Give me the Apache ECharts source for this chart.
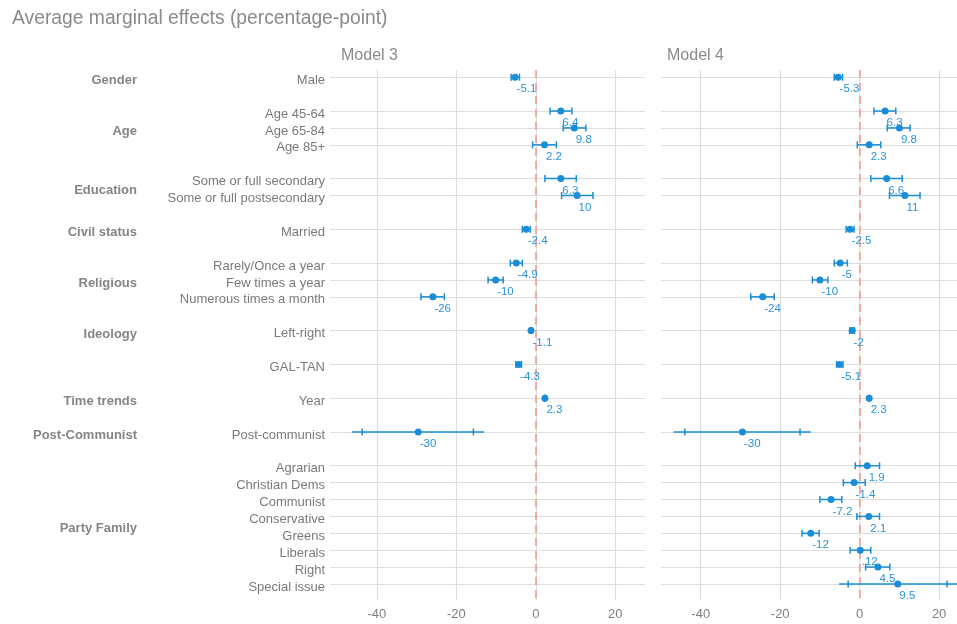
<!DOCTYPE html>
<html>
<head>
<meta charset="utf-8">
<script src="https://cdn.jsdelivr.net/npm/echarts@6/dist/echarts.min.js"></script>
<style>
  html, body { margin: 0; padding: 0; background: #fff; }
  #chart { width: 957px; height: 624px; }
</style>
</head>
<body>
<div id="chart"></div>
<script>
// rows (slot positions on the y scale, blank slots between groups)
var items = ['Male', 'Age 45-64', 'Age 65-84', 'Age 85+', 'Some or full secondary', 'Some or full postsecondary',
  'Married', 'Rarely/Once a year', 'Few times a year', 'Numerous times a month', 'Left-right', 'GAL-TAN',
  'Year', 'Post-communist', 'Agrarian', 'Christian Dems', 'Communist', 'Conservative', 'Greens', 'Liberals',
  'Right', 'Special issue'];
var itemRows = [0, 2, 3, 4, 6, 7, 9, 11, 12, 13, 15, 17, 19, 21, 23, 24, 25, 26, 27, 28, 29, 30];
var groups = ['Gender', 'Age', 'Education', 'Civil status', 'Religious', 'Ideology', 'Time trends', 'Post-Communist', 'Party Family'];
var groupRows = [0, 3, 6.5, 9, 12, 15, 19, 21, 26.5];
var xTicks = [-40, -20, 0, 20];

// Model 3 (no party family terms)
var est3 = [-5.2, 6.3, 9.7, 2.2, 6.3, 10.4, -2.4, -4.9, -10.1, -25.9, -1.2, -4.3, 2.3, -29.6];
var lo3 = [-6.2, 3.6, 6.9, -0.8, 2.3, 6.5, -3.4, -6.4, -12.0, -28.9, -1.4, -5.0, 2.2, -43.7];
var hi3 = [-4.1, 9.1, 12.6, 5.2, 10.2, 14.4, -1.4, -3.4, -8.2, -23.0, -1.0, -3.6, 2.4, -15.7];
var lineLo3 = [-6.2, 3.6, 6.9, -0.8, 2.3, 6.5, -3.4, -6.4, -12.0, -28.9, -1.4, -5.0, 2.2, -46.3];
var lineHi3 = [-4.1, 9.1, 12.6, 5.2, 10.2, 14.4, -1.4, -3.4, -8.2, -23.0, -1.0, -3.6, 2.4, -13.0];
var labels3 = ['-5.1', '6.4', '9.8', '2.2', '6.3', '10', '-2.4', '-4.9', '-10', '-26', '-1.1', '-4.3', '2.3', '-30'];

// Model 4
var est4 = [-5.4, 6.4, 10.0, 2.4, 6.8, 11.4, -2.4, -4.9, -10.0, -24.4, -1.9, -5.0, 2.4, -29.5,
  1.9, -1.4, -7.2, 2.3, -12.3, 0.15, 4.6, 9.6];
var lo4 = [-6.4, 3.6, 6.95, -0.6, 2.8, 7.5, -3.4, -6.4, -11.9, -27.4, -2.5, -5.8, 2.3, -44.0,
  -1.1, -4.1, -10.0, -0.7, -14.5, -2.4, 1.5, -2.9];
var hi4 = [-4.3, 9.1, 12.7, 5.3, 10.7, 15.2, -1.4, -3.1, -8.0, -21.5, -1.3, -4.2, 2.5, -15.0,
  5.0, 1.4, -4.5, 5.0, -10.2, 2.8, 7.6, 22.0];
var lineLo4 = [-6.4, 3.6, 6.95, -0.6, 2.8, 7.5, -3.4, -6.4, -11.9, -27.4, -2.5, -5.8, 2.3, -46.8,
  -1.1, -4.1, -10.0, -0.7, -14.5, -2.4, 1.5, -5.2];
var lineHi4 = [-4.3, 9.1, 12.7, 5.3, 10.7, 15.2, -1.4, -3.1, -8.0, -21.5, -1.3, -4.2, 2.5, -12.3,
  5.0, 1.4, -4.5, 5.0, -10.2, 2.8, 7.6, 25.0];
var labels4 = ['-5.3', '6.3', '9.8', '2.3', '6.6', '11', '-2.5', '-5', '-10', '-24', '-2', '-5.1', '2.3', '-30',
  '1.9', '-1.4', '-7.2', '2.1', '-12', '.12', '4.5', '9.5'];

var FONT = "'Liberation Sans', Arial, sans-serif";
var BLUE = '#1a8cd8';
var TEXT_BLUE = '#2b93d9';
var GREY = '#808080';
var GRID_LINE = '#dedede';

function buildData(est, lo, hi, lineLo, lineHi) {
  var out = [];
  for (var i = 0; i < est.length; i++) {
    out.push([est[i], itemRows[i], lo[i], hi[i], lineLo[i], lineHi[i], i]);
  }
  return out;
}

function makeRender(labels) {
  return function (params, api) {
    var row = api.value(1);
    var p = api.coord([api.value(0), row]);
    var l = api.coord([api.value(2), row]);
    var h = api.coord([api.value(3), row]);
    var a = api.coord([api.value(4), row]);
    var b = api.coord([api.value(5), row]);
    var st = { stroke: BLUE, lineWidth: 1.5 };
    return {
      type: 'group',
      children: [
        { type: 'line', shape: { x1: a[0], y1: a[1], x2: b[0], y2: b[1] }, style: st },
        { type: 'line', shape: { x1: l[0], y1: l[1] - 3.5, x2: l[0], y2: l[1] + 3.5 }, style: st },
        { type: 'line', shape: { x1: h[0], y1: h[1] - 3.5, x2: h[0], y2: h[1] + 3.5 }, style: st },
        { type: 'circle', shape: { cx: p[0], cy: p[1], r: 3.5 }, style: { fill: BLUE } },
        { type: 'text', x: p[0] + 1.5, y: p[1] + 12,
          style: { text: labels[api.value(6)], fill: TEXT_BLUE, font: '11.5px ' + FONT,
                   align: 'left', verticalAlign: 'middle' } }
      ]
    };
  };
}

function rowName(v) {
  var i = itemRows.indexOf(Math.round(v));
  return i >= 0 ? items[i] : '';
}
function groupName(v) {
  for (var i = 0; i < groupRows.length; i++) {
    if (Math.abs(groupRows[i] - v) < 0.01) return groups[i];
  }
  return '';
}

var yBase = {
  type: 'value', inverse: true, min: -0.43, max: 30.95,
  axisLine: { show: false },
  axisTick: { show: false, customValues: itemRows },
  splitLine: { show: true, lineStyle: { color: GRID_LINE, width: 1.2 } }
};

var xBase = {
  type: 'value',
  axisLine: { show: false },
  axisTick: { show: false, customValues: xTicks },
  axisLabel: { customValues: xTicks, color: GREY, fontSize: 13, fontFamily: FONT, margin: 8 },
  splitLine: { show: true, lineStyle: { color: GRID_LINE, width: 1.2 } }
};

var zeroLine = {
  silent: true, symbol: 'none',
  label: { show: false },
  lineStyle: { color: '#f39a90', type: [8, 5], width: 1.6 },
  data: [{ xAxis: 0 }]
};

var option = {
  backgroundColor: '#fff',
  animation: false,
  title: [
    { text: 'Average marginal effects (percentage-point)', left: 7, top: 4,
      textStyle: { color: '#8a8a8a', fontSize: 19.3, fontWeight: 'normal', fontFamily: FONT } },
    { text: 'Model 3', left: 336, top: 43,
      textStyle: { color: '#8a8a8a', fontSize: 16, fontWeight: 'normal', fontFamily: FONT } },
    { text: 'Model 4', left: 662, top: 43,
      textStyle: { color: '#8a8a8a', fontSize: 16, fontWeight: 'normal', fontFamily: FONT } }
  ],
  grid: [
    { left: 330, top: 70, width: 315, height: 530 },
    { left: 661, top: 70, width: 296, height: 530 }
  ],
  xAxis: [
    Object.assign({}, xBase, { gridIndex: 0, min: -51.8, max: 27.5 }),
    Object.assign({}, xBase, { gridIndex: 1, min: -50.0, max: 24.5 })
  ],
  yAxis: [
    Object.assign({}, yBase, { gridIndex: 0,
      axisLabel: { customValues: itemRows, formatter: rowName, color: '#7a7a7a', fontSize: 13,
                   fontFamily: FONT, margin: 5, verticalAlign: 'top', lineHeight: 6 } }),
    Object.assign({}, yBase, { gridIndex: 0, position: 'left', offset: 189,
      splitLine: { show: false },
      axisTick: { show: false, customValues: groupRows },
      axisLabel: { customValues: groupRows, formatter: groupName, color: '#858585', fontSize: 13,
                   fontWeight: 'bold', fontFamily: FONT, margin: 4, verticalAlign: 'top', lineHeight: 7 } }),
    Object.assign({}, yBase, { gridIndex: 1, axisLabel: { show: false } })
  ],
  series: [
    { type: 'custom', xAxisIndex: 0, yAxisIndex: 0, data: [], z: 1, markLine: zeroLine },
    { type: 'custom', xAxisIndex: 1, yAxisIndex: 2, data: [], z: 1, markLine: zeroLine },
    { type: 'custom', xAxisIndex: 0, yAxisIndex: 0, z: 5,
      data: buildData(est3, lo3, hi3, lineLo3, lineHi3), renderItem: makeRender(labels3) },
    { type: 'custom', xAxisIndex: 1, yAxisIndex: 2, z: 5,
      data: buildData(est4, lo4, hi4, lineLo4, lineHi4), renderItem: makeRender(labels4) }
  ]
};

var chart = echarts.init(document.getElementById('chart'));
chart.setOption(option);
</script>
</body>
</html>
